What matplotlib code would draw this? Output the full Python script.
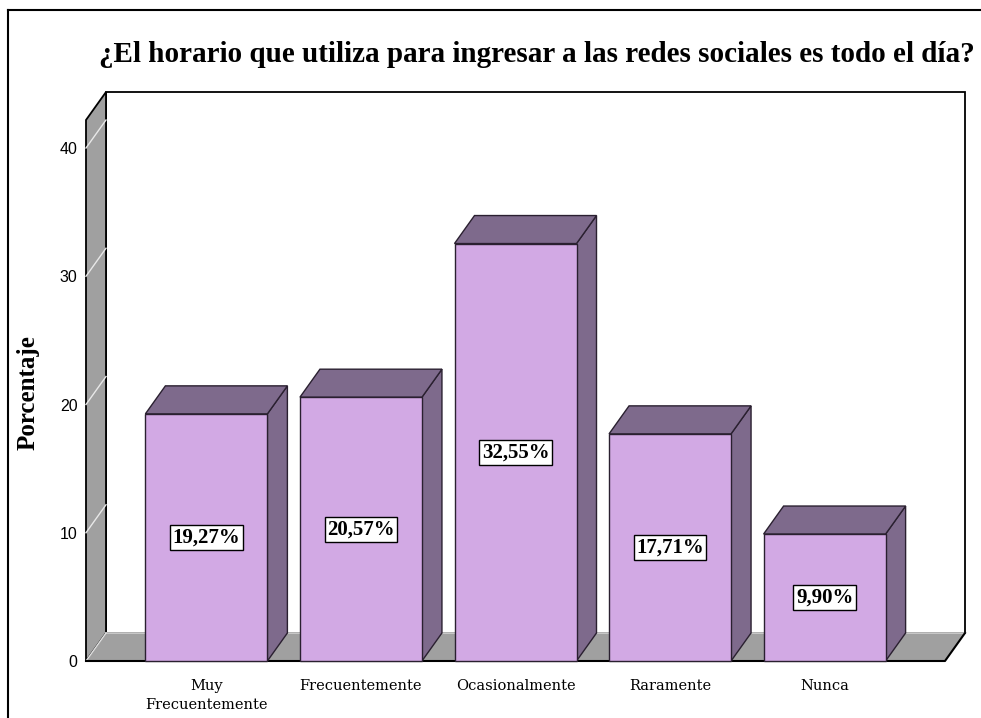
import matplotlib
matplotlib.use("Agg")
import matplotlib.pyplot as plt
from matplotlib.patches import Polygon, Rectangle
from matplotlib.lines import Line2D

categorias = ["Muy\nFrecuentemente", "Frecuentemente", "Ocasionalmente", "Raramente", "Nunca"]
porcentajes = [19.27, 20.57, 32.55, 17.71, 9.90]
etiquetas = ["19,27%", "20,57%", "32,55%", "17,71%", "9,90%"]
yticks = [0, 10, 20, 30, 40]

W, H = 981, 718
frente = "#d2a9e4"
oscuro = "#7e6a8c"
gris = "#a0a0a0"

fig = plt.figure(figsize=(W / 100, H / 100), dpi=100)
# front plane of the box, in pixels: x 86..945, y 661 (0) .. 120 (top)
ax = fig.add_axes([86 / W, (H - 661) / H, 859 / W, 541 / H])
x0, x1 = -0.779, 4.779
ymax = 541 / 12.825
ax.set_xlim(x0, x1)
ax.set_ylim(0, ymax)
for s in ax.spines.values():
    s.set_visible(False)

# depth offset of the 3d box, converted from pixels to data units
DX = 20 / (859 / (x1 - x0))
DY = 28 / 12.825

# back wall
ax.add_patch(Rectangle((x0 + DX, DY), x1 - x0, ymax, facecolor="white",
                       edgecolor="black", lw=1.3, clip_on=False, zorder=1))
# left wall
ax.add_patch(Polygon([(x0, 0), (x0, ymax), (x0 + DX, ymax + DY), (x0 + DX, DY)],
                     closed=True, facecolor=gris, edgecolor="black", lw=1.3,
                     clip_on=False, zorder=2))
for t in yticks[1:]:
    ax.add_line(Line2D([x0, x0 + DX], [t, t + DY], color="#e8e8e8", lw=1,
                       clip_on=False, zorder=3))
# floor
ax.add_patch(Polygon([(x0, 0), (x1, 0), (x1 + DX, DY), (x0 + DX, DY)],
                     closed=True, facecolor=gris, edgecolor="none",
                     clip_on=False, zorder=2))
ax.add_line(Line2D([x0 + DX, x1 + DX], [DY, DY], color="#d0d0d0", lw=1.2,
                   clip_on=False, zorder=3))
ax.add_line(Line2D([x0, x0 + DX], [0, DY], color="#e0e0e0", lw=1,
                   clip_on=False, zorder=3))
ax.add_line(Line2D([x0, x1, x1 + DX], [0, 0, DY], color="black", lw=1.5,
                   clip_on=False, zorder=3))

# bars
w = 122 / (859 / (x1 - x0))
for i, v in enumerate(porcentajes):
    l, r = i - w / 2, i + w / 2
    ax.add_patch(Polygon([(r, 0), (r, v), (r + DX, v + DY), (r + DX, DY)],
                         closed=True, facecolor=oscuro, edgecolor="#2a2030",
                         lw=1, zorder=4, clip_on=False))
    ax.add_patch(Polygon([(l, v), (r, v), (r + DX, v + DY), (l + DX, v + DY)],
                         closed=True, facecolor=oscuro, edgecolor="#2a2030",
                         lw=1, zorder=4, clip_on=False))
    ax.add_patch(Rectangle((l, 0), w, v, facecolor=frente, edgecolor="#2a2030",
                           lw=1, zorder=5, clip_on=False))
    ax.text(i, v / 2, etiquetas[i], ha="center", va="center", zorder=6,
            family="Liberation Serif", weight="bold", fontsize=15,
            bbox=dict(boxstyle="square,pad=0.12", facecolor="white",
                      edgecolor="black", lw=1))

ax.set_yticks(yticks)
ax.set_yticklabels([str(t) for t in yticks], family="Liberation Sans", fontsize=11.5)
ax.set_xticks(range(len(categorias)))
ax.set_xticklabels(categorias, family="DejaVu Serif", fontsize=10.5, linespacing=1.45)
ax.tick_params(axis="both", length=0)
ax.tick_params(axis="y", pad=6)
ax.tick_params(axis="x", pad=13)

fig.text(28 / W, 1 - 393 / H, "Porcentaje", rotation=90, ha="center", va="center",
         family="Liberation Serif", weight="bold", fontsize=18)
fig.text(537 / W, 1 - 54 / H,
         "¿El horario que utiliza para ingresar a las redes sociales es todo el día?",
         ha="center", va="center", family="Liberation Serif", weight="bold",
         fontsize=21)

# outer frame
fig.add_artist(Line2D([8 / W, 8 / W], [0, 1 - 10 / H], color="black", lw=1.5,
                      transform=fig.transFigure))
fig.add_artist(Line2D([8 / W, 1], [1 - 10 / H, 1 - 10 / H], color="black", lw=1.5,
                      transform=fig.transFigure))

fig.savefig("out.png", dpi=100)
